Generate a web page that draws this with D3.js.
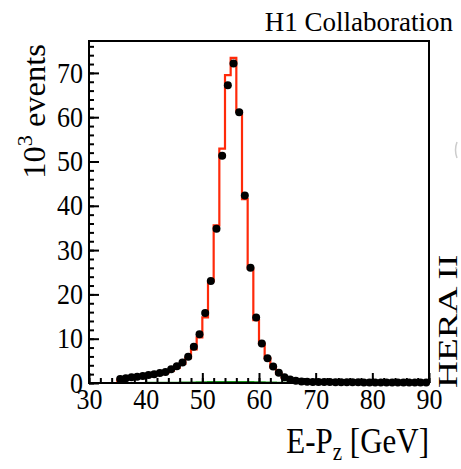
<!DOCTYPE html>
<html><head><meta charset="utf-8">
<script src="https://cdn.jsdelivr.net/npm/d3@7"></script>
<style>
body{margin:0;background:#fff;}
text{font-family:"Liberation Serif","DejaVu Serif",serif;fill:#000;}
</style></head>
<body><svg id="c" width="461" height="469"></svg>
<script>
// bin edges: 1 GeV bins from 35 to 90
const binStart = 35, binEnd = 90, binWidth = 1;
// data points (10^3 events) at bin centres 35.5 ... 89.5
const dataValues = [0.9,1.05,1.3,1.4,1.6,1.8,2.0,2.25,2.5,3.1,3.8,4.65,5.9,8.2,11.0,15.8,23.0,34.8,
  51.3,67.2,72.1,61.1,42.3,26.0,14.8,8.9,5.6,3.7,2.3,1.3,0.8,0.5,
  0.35,0.3,0.25,0.22,0.2,0.2,0.18,0.17,0.16,0.15,0.15,0.14,0.14,0.13,0.13,0.12,0.12,0.12,0.11,0.11,0.1,0.1,0.1];
// simulation histogram (red)
const mcValues = [0.75,0.9,1.05,1.2,1.35,1.55,1.75,2.0,2.3,2.8,3.4,4.3,5.6,7.6,10.3,14.8,23.0,35.6,
  52.9,69.5,73.4,61.3,41.5,25.8,14.2,8.9,5.6,3.5,2.1,1.2,0.7,0.45,
  0.3,0.25,0.2,0.18,0.16,0.15,0.14,0.13,0.12,0.12,0.11,0.11,0.1,0.1,0.1,0.09,0.09,0.09,0.08,0.08,0.08,0.08,0.08];
// background histogram (green), same binning
const bgValues = [0,0,0,0,0.02,0.03,0.04,0.05,0.06,0.07,0.08,0.1,0.12,0.14,0.16,0.18,0.2,0.22,
  0.24,0.25,0.25,0.24,0.22,0.2,0.18,0.15,0.12,0.1,0.08,0.06,0.05,0.04,
  0.03,0.02,0.02,0.01,0.01,0,0,0,0,0,0,0,0,0,0,0,0,0,0,0,0,0,0];
const xMajorTicks = [30,40,50,60,70,80,90];
const yMajorTicks = [0,10,20,30,40,50,60,70];
const xDomain = [30,90], yDomain = [0,77.2];

const svg = d3.select("#c");
const L=89, R=429, T=41, B=383;
const x = d3.scaleLinear().domain(xDomain).range([L,R]);
const y = d3.scaleLinear().domain(yDomain).range([B,T]);

svg.append("defs").append("clipPath").attr("id","clip")
  .append("rect").attr("x",L).attr("y",T-2).attr("width",R-L).attr("height",B-T+4);

function stepPath(vals){
  const pts=[[binStart,0]];
  vals.forEach((v,i)=>{const e0=binStart+i*binWidth;pts.push([e0,v]);pts.push([e0+binWidth,v]);});
  pts.push([binEnd,0]);
  return d3.line().x(d=>x(d[0])).y(d=>y(d[1]))(pts);
}

const g = svg.append("g").attr("clip-path","url(#clip)");
g.append("path").attr("d", d3.line().x(d=>x(d[0])).y(d=>y(d[1]))([[30,0],[binStart,0]]))
  .attr("stroke","#1a9a1a").attr("stroke-width",2).attr("fill","none");
g.append("path").attr("d",stepPath(bgValues)).attr("stroke","#1a9a1a").attr("stroke-width",2).attr("fill","none");
g.append("path").attr("d",stepPath(mcValues)).attr("stroke","#ff2a0a").attr("stroke-width",2.2).attr("fill","none");

// axes
const xMinor = d3.axisBottom(x).tickValues(d3.range(30,91,2)).tickSizeInner(-5).tickSizeOuter(0).tickFormat("");
const xMajor = d3.axisBottom(x).tickValues(xMajorTicks).tickSizeInner(-10).tickSizeOuter(0).tickPadding(0);
const yMinor = d3.axisLeft(y).tickValues(d3.range(0,77,2)).tickSizeInner(-5).tickSizeOuter(0).tickFormat("");
const yMajor = d3.axisLeft(y).tickValues(yMajorTicks).tickSizeInner(-10).tickSizeOuter(0).tickPadding(6);
[xMinor].forEach(a=>svg.append("g").attr("transform",`translate(0,${B})`).call(a));
const gxMaj = svg.append("g").attr("transform",`translate(0,${B})`).call(xMajor);
[yMinor].forEach(a=>svg.append("g").attr("transform",`translate(${L},0)`).call(a));
const gyMaj = svg.append("g").attr("transform",`translate(${L},0)`).call(yMajor);
svg.selectAll(".domain").remove();
svg.selectAll(".tick line").attr("stroke","#000").attr("stroke-width",2);
svg.selectAll(".tick text").style("font-size","26px").style("font-family","'Liberation Serif',serif").attr("fill","#000");
gxMaj.selectAll(".tick text").attr("y",0).attr("transform","translate(0,5) scale(1,1.12)");
gyMaj.selectAll(".tick text").attr("transform","scale(1,1.1)");

// frame
svg.append("rect").attr("x",L).attr("y",T).attr("width",R-L).attr("height",B-T)
  .attr("fill","none").attr("stroke","#000").attr("stroke-width",2);

// data points
const centres = dataValues.map((v,i)=>binStart+binWidth*(i+0.5));
svg.append("g").selectAll("circle").data(dataValues).join("circle")
  .attr("cx",(d,i)=>x(centres[i])).attr("cy",d=>y(d)).attr("r",4).attr("fill","#000");

// texts
svg.append("text").attr("x",453).attr("y",31).attr("text-anchor","end").style("font-size","27px").text("H1 Collaboration");

const yt = svg.append("text").attr("transform","translate(45,44) rotate(-90) scale(1.05,1)").attr("text-anchor","end").style("font-size","31px");
yt.append("tspan").text("10");
yt.append("tspan").attr("dy",-13).style("font-size","21px").text("3");
yt.append("tspan").attr("dy",13).text(" events");

const xt = svg.append("text").attr("transform","translate(429,453) scale(1,1.15)").attr("text-anchor","end").style("font-size","31px");
xt.append("tspan").text("E-P");
xt.append("tspan").attr("dy",6).style("font-size","21px").text("z");
xt.append("tspan").attr("dy",-6).text(" [GeV]");

svg.append("text").attr("transform","translate(457,388) rotate(-90) scale(1.38,1)").attr("text-anchor","start").style("font-size","27px").text("HERA II");

// faint clipped marks at right edge
svg.append("path").attr("d","M457,142 Q454,150 457,158").attr("stroke","#ccc").attr("stroke-width",1.5).attr("fill","none");
svg.append("circle").attr("cx",456).attr("cy",268).attr("r",1).attr("fill","#bbb");
</script></body></html>
